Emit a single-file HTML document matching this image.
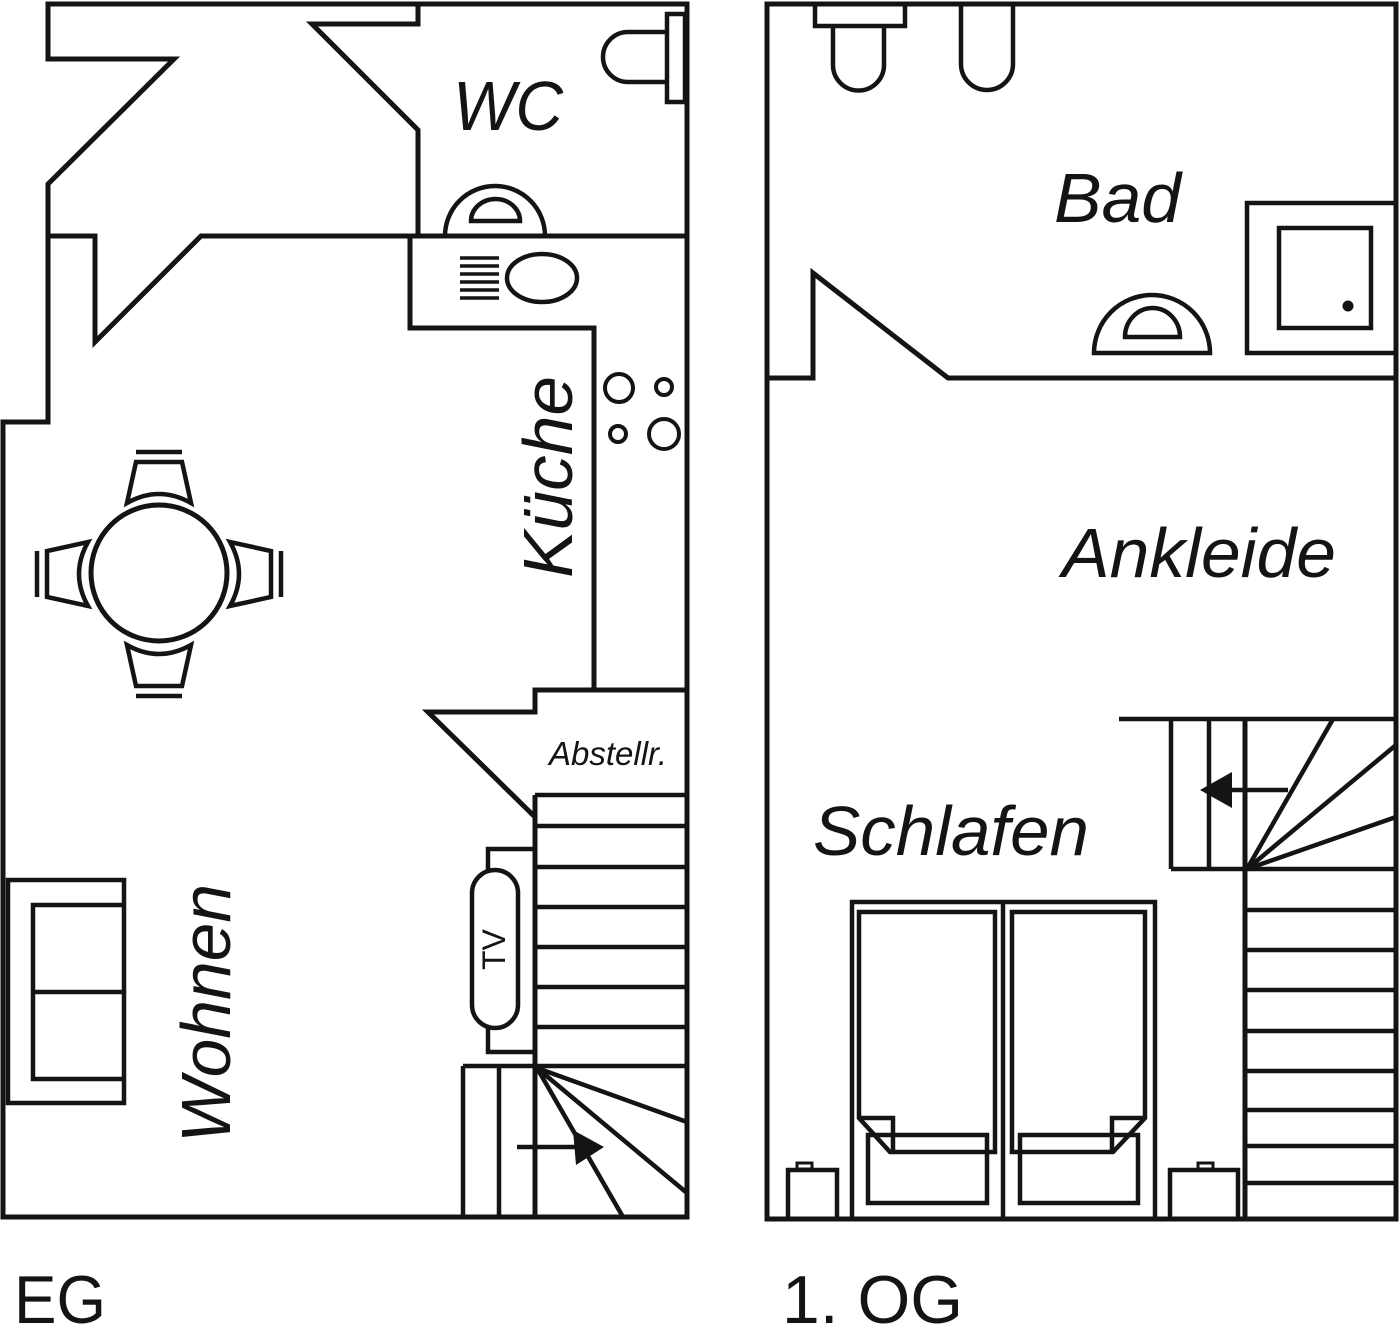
<!DOCTYPE html>
<html><head><meta charset="utf-8"><style>
html,body{margin:0;padding:0;background:#fff;}
svg{display:block;}
text{font-family:"Liberation Sans",Arial,sans-serif;fill:#141414;}
</style></head><body>
<svg width="1400" height="1339" viewBox="0 0 1400 1339" xmlns="http://www.w3.org/2000/svg">
<rect width="1400" height="1339" fill="#fff"/>
<g fill="none" stroke="#141414" stroke-width="5" stroke-linejoin="miter">
<!-- ===== EG ===== -->
<polygon points="687,1217 687,4 48,4 48,59 174,59 48,184 48,422 3,422 3,1217"/>
<polyline points="418,4 418,24 312,24 418,130 418,236"/>
<polyline points="48,236 95,236 95,342 201,236 687,236"/>
<polyline points="410,236 410,328 594,328 594,690"/>
<polyline points="687,690 535,690 535,712 428,712 535,817"/>
<line x1="535" y1="795" x2="535" y2="1217"/>
<g stroke-width="4.5">
<line x1="535" y1="795" x2="687" y2="795"/>
<line x1="535" y1="826" x2="687" y2="826"/>
<line x1="535" y1="867" x2="687" y2="867"/>
<line x1="535" y1="907" x2="687" y2="907"/>
<line x1="535" y1="947" x2="687" y2="947"/>
<line x1="535" y1="987" x2="687" y2="987"/>
<line x1="535" y1="1027" x2="687" y2="1027"/>
<line x1="463" y1="1066" x2="687" y2="1066"/>
<line x1="463" y1="1066" x2="463" y2="1217"/>
<line x1="499" y1="1066" x2="499" y2="1217"/>
<line x1="537" y1="1068" x2="687" y2="1122"/>
<line x1="537" y1="1068" x2="687" y2="1193"/>
<line x1="537" y1="1068" x2="623" y2="1217"/>
<line x1="517" y1="1147" x2="585" y2="1147"/>
</g>
<polygon points="604,1147 573,1130 576,1165" fill="#141414" stroke="none"/>
<!-- TV -->
<rect x="488" y="849" width="47" height="203" stroke-width="4.5"/>
<rect x="472" y="870" width="46" height="158" rx="23" ry="23" fill="#fff" stroke-width="4.5"/>
<!-- WC toilet -->
<rect x="667" y="14" width="18" height="88" stroke-width="4.5"/>
<path d="M667,32 L628,32 A25,25 0 0 0 628,82 L667,82" stroke-width="4.5"/>
<!-- WC door / basin -->
<path d="M445,236 A50,50 0 0 1 545,236" stroke-width="4.5"/>
<path d="M471,221 L520,221 A24.5,22 0 0 0 471,221 Z" stroke-width="4.5"/>
<!-- sink -->
<g stroke-width="3.5">
<line x1="460" y1="258" x2="499" y2="258"/>
<line x1="460" y1="266" x2="499" y2="266"/>
<line x1="460" y1="274" x2="499" y2="274"/>
<line x1="460" y1="282" x2="499" y2="282"/>
<line x1="460" y1="290" x2="499" y2="290"/>
<line x1="460" y1="298" x2="499" y2="298"/>
</g>
<ellipse cx="542" cy="278" rx="35" ry="24" stroke-width="4.5"/>
<!-- stove -->
<g stroke-width="4">
<circle cx="619" cy="388" r="14"/>
<circle cx="664" cy="387" r="8"/>
<circle cx="618" cy="434" r="8"/>
<circle cx="664" cy="434" r="15"/>
</g>
<!-- table -->
<circle cx="159" cy="573" r="68"/>
<g id="chair" stroke-width="4.5">
<path d="M136,462 L182,462 L191,503 Q159,485 127,503 Z"/>
<line x1="136" y1="452" x2="182" y2="452"/>
</g>
<use href="#chair" transform="rotate(90 159 574)"/>
<use href="#chair" transform="rotate(180 159 574)"/>
<use href="#chair" transform="rotate(270 159 574)"/>
<!-- sofa -->
<g stroke-width="4.5">
<rect x="8" y="880" width="116" height="223"/>
<polyline points="124,905 33,905 33,1079 124,1079"/>
<line x1="33" y1="992" x2="124" y2="992"/>
</g>

<!-- ===== 1. OG ===== -->
<rect x="767" y="4" width="629" height="1215"/>
<polyline points="767,378 813,378 813,273 948,378 1396,378"/>
<g stroke-width="4.5">
<rect x="815" y="4" width="90" height="22"/>
<path d="M833,26 L833,65 A25.5,25.5 0 0 0 884,65 L884,26"/>
<path d="M961,4 L961,64 A26,26 0 0 0 1013,64 L1013,4"/>
<polyline points="1396,203 1247,203 1247,353 1396,353"/>
<rect x="1279" y="228" width="92" height="100"/>
<path d="M1094,353 A58,58 0 0 1 1210,353 Z"/>
<path d="M1125,337 A27.5,29 0 0 1 1180,337 Z"/>
</g>
<circle cx="1348" cy="306" r="5.5" fill="#141414" stroke="none"/>
<!-- stairs -->
<g stroke-width="4.5">
<line x1="1119" y1="719" x2="1396" y2="719"/>
<line x1="1171" y1="719" x2="1171" y2="869"/>
<line x1="1209" y1="719" x2="1209" y2="869"/>
<line x1="1171" y1="869" x2="1396" y2="869"/>
<line x1="1245" y1="910" x2="1396" y2="910"/>
<line x1="1245" y1="950" x2="1396" y2="950"/>
<line x1="1245" y1="990" x2="1396" y2="990"/>
<line x1="1245" y1="1031" x2="1396" y2="1031"/>
<line x1="1245" y1="1071" x2="1396" y2="1071"/>
<line x1="1245" y1="1110" x2="1396" y2="1110"/>
<line x1="1245" y1="1146" x2="1396" y2="1146"/>
<line x1="1245" y1="1183" x2="1396" y2="1183"/>
<line x1="1247" y1="869" x2="1333" y2="719"/>
<line x1="1247" y1="869" x2="1396" y2="745"/>
<line x1="1247" y1="869" x2="1396" y2="817"/>
<line x1="1288" y1="790" x2="1228" y2="790"/>
</g>
<line x1="1245" y1="719" x2="1245" y2="1219"/>
<polygon points="1200,790 1232,772 1232,808" fill="#141414" stroke="none"/>
<!-- nightstands -->
<g stroke-width="4.5">
<rect x="788" y="1170" width="49" height="49"/>
<rect x="797" y="1163" width="15" height="6" stroke-width="3"/>
<rect x="1170" y="1170" width="68" height="49"/>
<rect x="1198" y="1163" width="15" height="6" stroke-width="3"/>
</g>
<!-- beds -->
<g stroke-width="4.5">
<polyline points="852,1219 852,902 1155,902 1155,1219"/>
<line x1="1003" y1="902" x2="1003" y2="1219"/>
<polygon points="859,912 995,912 995,1152 890,1152 859,1118"/>
<polyline points="859,1118 893,1118 893,1152"/>
<rect x="868" y="1135" width="119" height="68"/>
<polygon points="1012,912 1145,912 1145,1118 1113,1152 1012,1152"/>
<polyline points="1145,1118 1112,1118 1112,1152"/>
<rect x="1020" y="1135" width="118" height="68"/>
</g>
</g>

<!-- labels -->
<g font-style="italic" font-size="70">
<text x="453" y="130" textLength="110" lengthAdjust="spacingAndGlyphs">WC</text>
<text x="1054" y="222" textLength="127" lengthAdjust="spacingAndGlyphs">Bad</text>
<text x="1062" y="577" textLength="274" lengthAdjust="spacingAndGlyphs">Ankleide</text>
<text x="813" y="855" textLength="276" lengthAdjust="spacingAndGlyphs">Schlafen</text>
<text transform="translate(572,578) rotate(-90)" textLength="202" lengthAdjust="spacingAndGlyphs">Küche</text>
<text transform="translate(230,1143) rotate(-90)" textLength="259" lengthAdjust="spacingAndGlyphs">Wohnen</text>
</g>
<text x="549" y="765" font-style="italic" font-size="33">Abstellr.</text>
<text transform="translate(505,970) rotate(-90)" font-size="32">TV</text>
<text x="14" y="1323" font-size="68" textLength="92" lengthAdjust="spacingAndGlyphs">EG</text>
<text x="782" y="1323" font-size="68" textLength="181" lengthAdjust="spacingAndGlyphs">1. OG</text>
</svg>
</body></html>
